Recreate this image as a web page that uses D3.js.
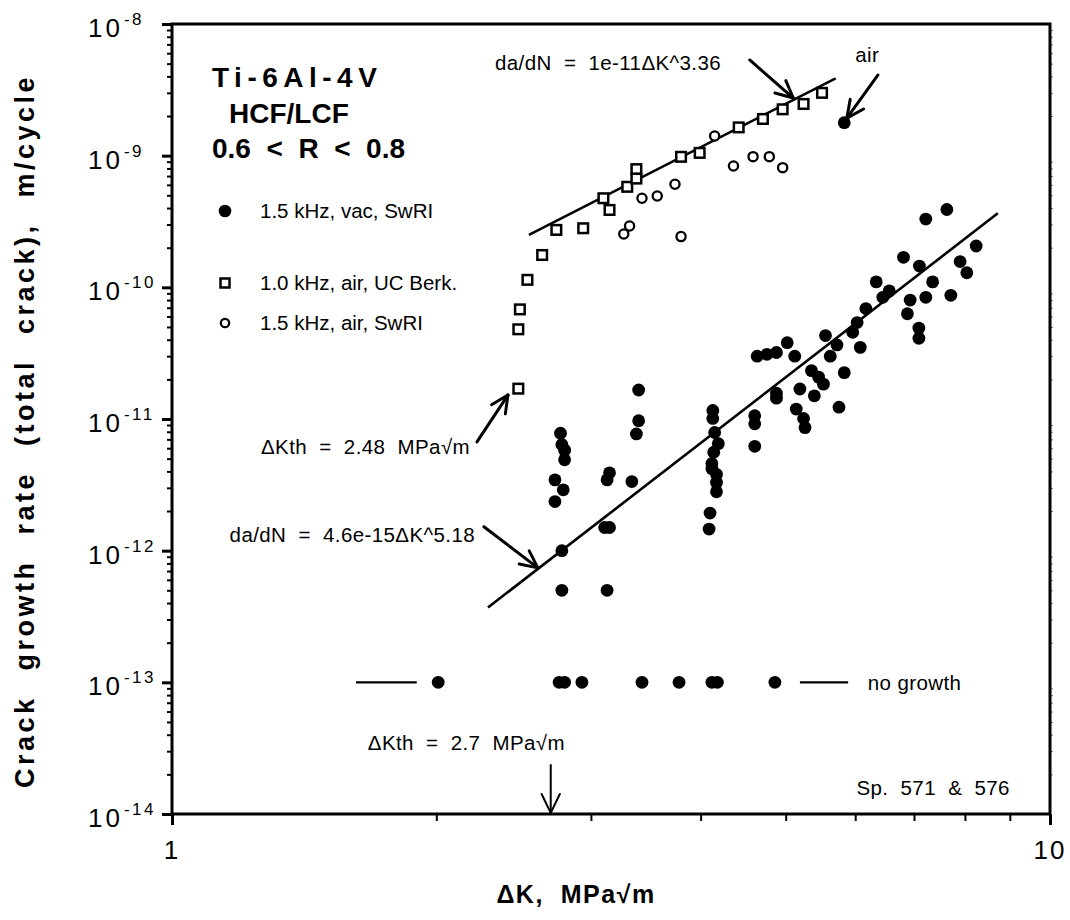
<!DOCTYPE html>
<html>
<head>
<meta charset="utf-8">
<script src="https://cdn.jsdelivr.net/npm/d3@7"></script>
<style>
  body { margin: 0; background: #fff; }
  text { font-family: "Liberation Sans", Arial, Helvetica, sans-serif; fill: #000; white-space: pre; }
</style>
</head>
<body>
<svg></svg>
<script>
// 1.5 kHz, vac, SwRI  [dK MPa*sqrt(m), da/dN m/cycle]
const vacPoints = [
  [2.77, 7.8e-12], [2.78, 6.4e-12], [2.80, 5.8e-12], [2.80, 4.9e-12], [2.73, 3.45e-12],
  [2.79, 2.9e-12], [2.73, 2.36e-12], [2.78, 1.0e-12], [2.78, 5.0e-13],
  [3.40, 1.66e-11], [3.40, 9.7e-12], [3.38, 7.7e-12], [3.15, 3.9e-12], [3.13, 3.45e-12],
  [3.34, 3.35e-12], [3.11, 1.5e-12], [3.15, 1.5e-12], [3.13, 5.0e-13],
  [4.13, 1.16e-11], [4.13, 1.01e-11], [4.15, 7.9e-12], [4.19, 6.5e-12], [4.14, 5.6e-12],
  [4.12, 4.6e-12], [4.12, 4.2e-12], [4.17, 3.8e-12], [4.17, 3.3e-12], [4.17, 2.8e-12],
  [4.10, 1.93e-12], [4.09, 1.46e-12],
  [4.61, 1.06e-11], [4.61, 9.2e-12], [4.61, 6.2e-12], [4.64, 3.0e-11], [4.76, 3.1e-11],
  [4.88, 3.2e-11], [5.02, 3.8e-11], [5.12, 3.0e-11], [4.88, 1.57e-11], [4.88, 1.44e-11],
  [5.14, 1.19e-11], [5.24, 1.01e-11], [5.26, 8.6e-12], [5.19, 1.69e-11], [5.39, 1.5e-11],
  [5.35, 2.33e-11], [5.45, 2.08e-11], [5.52, 1.84e-11], [5.55, 4.3e-11], [5.72, 3.65e-11],
  [5.62, 3.0e-11], [5.83, 2.25e-11], [5.75, 1.23e-11], [5.96, 4.56e-11], [6.03, 5.4e-11],
  [6.08, 3.5e-11], [6.17, 6.9e-11], [6.34, 1.1e-10], [6.45, 8.4e-11], [6.56, 9.4e-11],
  [6.81, 1.69e-10], [6.93, 8.0e-11], [6.88, 6.3e-11], [7.10, 1.45e-10], [7.22, 8.4e-11],
  [7.35, 1.1e-10], [7.09, 4.9e-11], [7.09, 4.1e-11], [7.22, 3.3e-10], [7.63, 3.9e-10],
  [7.71, 8.7e-11], [7.90, 1.57e-10], [8.04, 1.29e-10], [8.24, 2.06e-10]
];
// the single filled point tested in air
const airDot = [[5.83, 1.78e-9]];

// 1.0 kHz, air, UC Berk.
const berkPoints = [
  [2.48, 1.7e-11], [2.48, 4.8e-11], [2.49, 6.8e-11], [2.54, 1.14e-10], [2.64, 1.76e-10],
  [2.74, 2.73e-10], [2.94, 2.81e-10], [3.10, 4.75e-10], [3.15, 3.87e-10], [3.30, 5.8e-10],
  [3.38, 7.9e-10], [3.38, 6.7e-10], [3.80, 9.8e-10], [3.99, 1.05e-9], [4.42, 1.64e-9],
  [4.71, 1.9e-9], [4.96, 2.25e-9], [5.24, 2.47e-9], [5.50, 3.0e-9]
];

// 1.5 kHz, air, SwRI
const swriAirPoints = [
  [3.27, 2.54e-10], [3.32, 2.92e-10], [3.43, 4.75e-10], [3.57, 4.94e-10], [3.74, 6.07e-10],
  [3.80, 2.43e-10], [4.15, 1.41e-9], [4.36, 8.35e-10], [4.59, 9.83e-10], [4.79, 9.83e-10],
  [4.96, 8.11e-10]
];

// run-outs plotted at 1e-13
const noGrowthDK = [2.01, 2.76, 2.80, 2.93, 3.43, 3.78, 4.12, 4.18, 4.86];
const noGrowthRate = 1e-13;
const noGrowthDashes = [[1.62, 1.90], [5.19, 5.89]];

// fitted lines (end points)
const fitAir = [[2.55, 2.5e-10], [5.70, 3.87e-9]];
const fitVac = [[2.29, 3.7e-13], [8.72, 3.65e-10]];

const arrows = [
  { from: [4.55, 5.33e-9], to: [5.10, 2.74e-9], w: 3 },
  { from: [6.37, 4.1e-9], to: [5.87, 1.93e-9], w: 3 },
  { from: [2.225, 6.7e-12], to: [2.413, 1.52e-11], w: 3 },
  { from: [2.266, 1.52e-12], to: [2.61, 7.4e-13], w: 3 },
  { from: [2.7, 2.36e-14], to: [2.7, 1.02e-14], w: 2 }
];

const notes = [
  { text: "da/dN  =  1e-11\u0394K^3.36", at: [2.333, 4.48e-9], anchor: "start" },
  { text: "air", at: [6.0, 5.14e-9], anchor: "start" },
  { text: "\u0394Kth  =  2.48  MPa\u221Am", at: [2.185, 5.43e-12], anchor: "end" },
  { text: "da/dN  =  4.6e-15\u0394K^5.18", at: [2.214, 1.17e-12], anchor: "end" },
  { text: "\u0394Kth  =  2.7  MPa\u221Am", at: [2.803, 3.06e-14], anchor: "end" },
  { text: "no growth", at: [6.2, 0.88e-13], anchor: "start" },
  { text: "Sp.  571  &  576", at: [9.0, 1.39e-14], anchor: "end" }
];

const yExponents = [-8, -9, -10, -11, -12, -13, -14];
const xLabels = [1, 10];

const legendItems = [
  { type: "dot", label: "1.5 kHz, vac, SwRI" },
  { type: "square", label: "1.0 kHz, air, UC Berk." },
  { type: "circle", label: "1.5 kHz, air, SwRI" }
];

const width = 1070;
const height = 920;
const plot = { left: 172, right: 1050, top: 24, bottom: 814 };

const svg = d3.select("svg").attr("width", width).attr("height", height);

const x = d3.scaleLog().domain([1, 10]).range([plot.left, plot.right]);
const y = d3.scaleLog().domain([1e-14, 1e-8]).range([plot.bottom, plot.top]);

// minor ticks
const xMinor = d3.range(2, 10);
const yMinor = [];
yExponents.slice(1).forEach(e => d3.range(2, 10).forEach(m => yMinor.push(m * Math.pow(10, e))));

svg.append("g")
  .attr("transform", `translate(0,${plot.bottom})`)
  .call(d3.axisBottom(x).tickValues(xMinor).tickSize(7).tickFormat(""))
  .call(g => g.select(".domain").remove())
  .selectAll("line").attr("stroke-width", 2);
svg.append("g")
  .attr("transform", `translate(0,${plot.bottom})`)
  .call(d3.axisBottom(x).tickValues(xLabels).tickSize(11).tickFormat(""))
  .call(g => g.select(".domain").remove())
  .selectAll("line").attr("stroke-width", 3);

svg.append("g")
  .attr("transform", `translate(${plot.left},0)`)
  .call(d3.axisLeft(y).tickValues(yMinor).tickSize(5).tickFormat(""))
  .call(g => g.select(".domain").remove())
  .selectAll("line").attr("stroke-width", 2);
svg.append("g")
  .attr("transform", `translate(${plot.left},0)`)
  .call(d3.axisLeft(y).tickValues(yExponents.map(e => Math.pow(10, e))).tickSize(10).tickFormat(""))
  .call(g => g.select(".domain").remove())
  .selectAll("line").attr("stroke-width", 3);

svg.append("g")
  .attr("transform", `translate(${plot.right},0)`)
  .call(d3.axisRight(y).tickValues(yMinor).tickSize(3).tickFormat(""))
  .call(g => g.select(".domain").remove())
  .selectAll("line").attr("stroke-width", 1).attr("stroke", "#777");

// frame
svg.append("rect")
  .attr("x", plot.left).attr("y", plot.top)
  .attr("width", plot.right - plot.left).attr("height", plot.bottom - plot.top)
  .attr("fill", "none").attr("stroke", "#000").attr("stroke-width", 3);

// y tick labels 10^-n
const yLab = svg.append("g").selectAll("text")
  .data(yExponents).enter().append("text")
  .attr("x", 88)
  .attr("y", d => y(Math.pow(10, d)) + 13)
  .style("font-size", "26px")
  .style("letter-spacing", "3px");
yLab.append("tspan").text("10");
yLab.append("tspan")
  .attr("dx", 1).attr("dy", -12)
  .style("font-size", "17px")
  .style("letter-spacing", "2.5px")
  .text(d => d);

svg.append("g").selectAll("text")
  .data(xLabels).enter().append("text")
  .attr("x", d => x(d))
  .attr("y", 859)
  .attr("text-anchor", "middle")
  .style("font-size", "26px")
  .style("letter-spacing", "2px")
  .text(d => d);

// axis titles
svg.append("text")
  .attr("transform", "translate(34,431) rotate(-90)")
  .attr("text-anchor", "middle")
  .style("font-size", "27px").style("font-weight", "bold")
  .style("letter-spacing", "3.5px").style("word-spacing", "14px")
  .text("Crack growth rate (total crack), m/cycle");

svg.append("text")
  .attr("x", 576).attr("y", 903)
  .attr("text-anchor", "middle")
  .style("font-size", "25px").style("font-weight", "bold")
  .style("letter-spacing", "1.5px")
  .text("\u0394K,  MPa\u221Am");

// fit lines
const line = d3.line().x(d => x(d[0])).y(d => y(d[1]));
[fitAir, fitVac].forEach(f => {
  svg.append("path").datum(f).attr("d", line)
    .attr("fill", "none").attr("stroke", "#000").attr("stroke-width", 2.6);
});

// no growth dashes
svg.append("g").selectAll("line")
  .data(noGrowthDashes).enter().append("line")
  .attr("x1", d => x(d[0])).attr("x2", d => x(d[1]))
  .attr("y1", y(noGrowthRate)).attr("y2", y(noGrowthRate))
  .attr("stroke", "#000").attr("stroke-width", 2.2);

// markers
function drawMarkers(g, data, type) {
  if (type === "dot") {
    g.selectAll("circle").data(data).enter().append("circle")
      .attr("cx", d => x(d[0])).attr("cy", d => y(d[1]))
      .attr("r", 6.4).attr("fill", "#000");
  } else if (type === "circle") {
    g.selectAll("circle").data(data).enter().append("circle")
      .attr("cx", d => x(d[0])).attr("cy", d => y(d[1]))
      .attr("r", 4.6).attr("fill", "#fff").attr("stroke", "#000").attr("stroke-width", 2.3);
  } else {
    g.selectAll("rect").data(data).enter().append("rect")
      .attr("x", d => x(d[0]) - 4.8).attr("y", d => y(d[1]) - 4.8)
      .attr("width", 9.6).attr("height", 9.6)
      .attr("fill", "#fff").attr("stroke", "#000").attr("stroke-width", 2.5);
  }
}
drawMarkers(svg.append("g"), swriAirPoints, "circle");
drawMarkers(svg.append("g"), berkPoints, "square");
drawMarkers(svg.append("g"), vacPoints, "dot");
drawMarkers(svg.append("g"), airDot, "dot");
drawMarkers(svg.append("g"), noGrowthDK.map(k => [k, noGrowthRate]), "dot");

// arrows with open heads
const arrowG = svg.append("g").attr("stroke", "#000").attr("fill", "none").attr("stroke-linecap", "round");
arrows.forEach(a => {
  const x0 = x(a.from[0]), y0 = y(a.from[1]);
  const x1 = x(a.to[0]), y1 = y(a.to[1]);
  const ang = Math.atan2(y0 - y1, x0 - x1);
  const len = a.w === 2 ? 21 : 19, spread = 0.45;
  arrowG.append("line").attr("x1", x0).attr("y1", y0).attr("x2", x1).attr("y2", y1)
    .attr("stroke-width", a.w);
  [-spread, spread].forEach(s => {
    arrowG.append("line")
      .attr("x1", x1).attr("y1", y1)
      .attr("x2", x1 + len * Math.cos(ang + s)).attr("y2", y1 + len * Math.sin(ang + s))
      .attr("stroke-width", a.w);
  });
});

// annotation text
svg.append("g").selectAll("text")
  .data(notes).enter().append("text")
  .attr("x", d => x(d.at[0])).attr("y", d => y(d.at[1]))
  .attr("text-anchor", d => d.anchor)
  .style("font-size", "20.5px")
  .style("letter-spacing", "0.4px")
  .text(d => d.text);

// title block
const title = svg.append("g").style("font-weight", "bold").style("font-size", "28px");
title.append("text").attr("x", plot.left + 40).attr("y", 87)
  .style("letter-spacing", "5.5px").text("Ti-6Al-4V");
title.append("text").attr("x", plot.left + 57).attr("y", 123)
  .text("HCF/LCF");
title.append("text").attr("x", plot.left + 40).attr("y", 158)
  .text("0.6  <  R  <  0.8");

// legend
const legendY = [211, 283, 323];
const leg = svg.append("g");
legendItems.forEach((item, i) => {
  const cy = legendY[i];
  if (item.type === "dot") {
    leg.append("circle").attr("cx", plot.left + 53).attr("cy", cy).attr("r", 6.3).attr("fill", "#000");
  } else if (item.type === "circle") {
    leg.append("circle").attr("cx", plot.left + 53).attr("cy", cy).attr("r", 4.2)
      .attr("fill", "#fff").attr("stroke", "#000").attr("stroke-width", 2.2);
  } else {
    leg.append("rect").attr("x", plot.left + 48.5).attr("y", cy - 4.5).attr("width", 9).attr("height", 9)
      .attr("fill", "#fff").attr("stroke", "#000").attr("stroke-width", 2.5);
  }
  leg.append("text").attr("x", plot.left + 88).attr("y", cy + 7)
    .style("font-size", "20.5px").text(item.label);
});
</script>
</body>
</html>
